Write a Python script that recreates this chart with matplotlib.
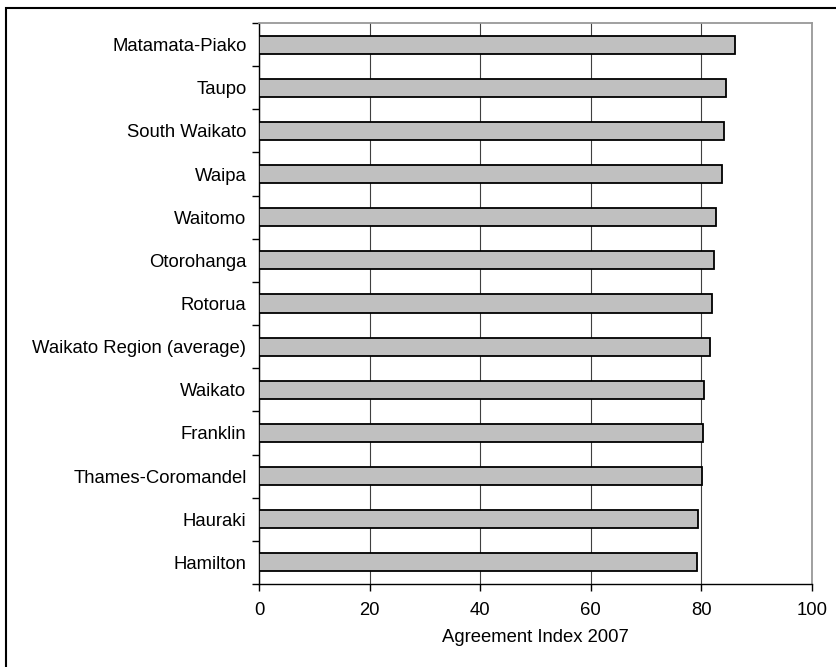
import matplotlib
matplotlib.use('Agg')

import numpy as np
import matplotlib.pyplot as plt
from matplotlib.patches import Rectangle
from matplotlib.ticker import FixedLocator

# 数据 (从上到下)
districts = ['Matamata-Piako', 'Taupo', 'South Waikato', 'Waipa', 'Waitomo',
             'Otorohanga', 'Rotorua', 'Waikato Region (average)', 'Waikato',
             'Franklin', 'Thames-Coromandel', 'Hauraki', 'Hamilton']
agreement = [86.1, 84.4, 84.1, 83.7, 82.6, 82.3, 81.9, 81.5, 80.5,
             80.3, 80.1, 79.3, 79.2]
x_ticks = [0, 20, 40, 60, 80, 100]

plt.rcParams['font.family'] = ['Liberation Sans', 'DejaVu Sans']
FS = 13.3

fig = plt.figure(figsize=(8.36, 6.67), dpi=100, facecolor='white')
ax = fig.add_axes([259 / 836, 1 - 584 / 667, 553 / 836, 561 / 667])

n = len(districts)
y_pos = np.arange(n)[::-1]
ax.barh(y_pos, agreement, height=0.42, color='#C0C0C0',
        edgecolor='black', linewidth=1.3, zorder=3)

ax.set_xlim(0, 100)
ax.set_ylim(-0.5, n - 0.5)
ax.set_xticks(x_ticks)
ax.set_xticklabels([str(v) for v in x_ticks], fontsize=FS)
ax.xaxis.grid(True, color='#404040', linewidth=0.8, zorder=0)

# 类别标签居中, 刻度在类别边界
ax.set_yticks(y_pos)
ax.set_yticklabels(districts, fontsize=FS)
ax.tick_params(axis='y', which='major', length=0, pad=9)
ax.yaxis.set_minor_locator(FixedLocator(np.arange(-0.5, n, 1.0)))
ax.tick_params(axis='y', which='minor', length=5, width=1, color='black')
ax.tick_params(axis='x', length=5, width=1, color='black', pad=8)

ax.set_xlabel('Agreement Index 2007', fontsize=FS, labelpad=7)

for side in ['top', 'right']:
    ax.spines[side].set_color('#999999')
    ax.spines[side].set_linewidth(1.3)
for side in ['left', 'bottom']:
    ax.spines[side].set_color('black')
    ax.spines[side].set_linewidth(1.0)

# 外框 (右侧和底部在图外)
frame = Rectangle((6 / 836, -0.2), 2.0, 1 - 8 / 667 + 0.2,
                  transform=fig.transFigure, fill=False,
                  edgecolor='black', linewidth=1.5, clip_on=False)
fig.add_artist(frame)

fig.savefig('out.png', dpi=100, facecolor='white')
